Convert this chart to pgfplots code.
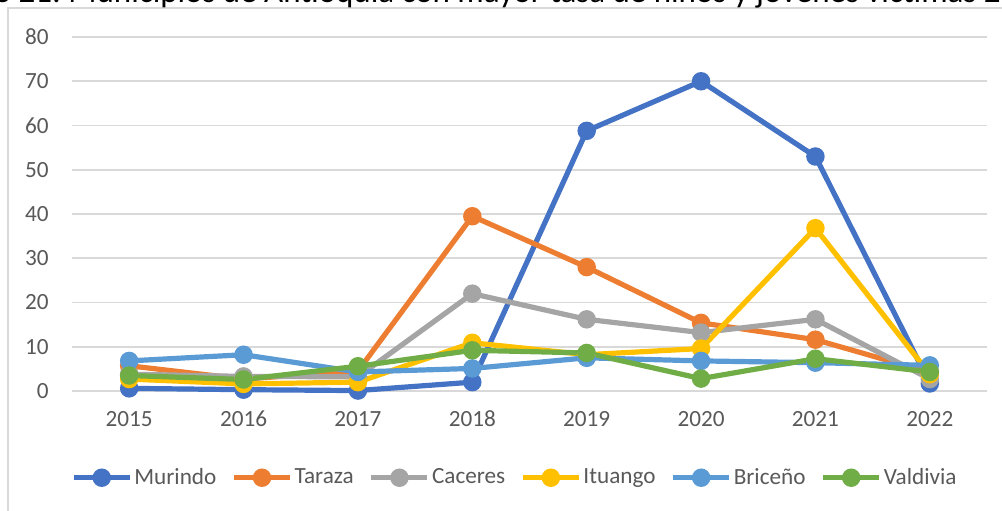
\documentclass[border=0pt]{standalone}
\usepackage{pgfplots}
\pgfplotsset{compat=1.18}
\usepackage{fontspec}
\setmainfont{Carlito}
\definecolor{cMur}{HTML}{4472C4}
\definecolor{cTar}{HTML}{ED7D31}
\definecolor{cCac}{HTML}{A5A5A5}
\definecolor{cItu}{HTML}{FFC000}
\definecolor{cBri}{HTML}{5B9BD5}
\definecolor{cVal}{HTML}{70AD47}
\definecolor{cGrid}{HTML}{D9D9D9}
\definecolor{cTxt}{HTML}{595959}
\begin{document}
\begin{tikzpicture}
% chart frame
\draw[cGrid, line width=0.6pt] (4pt,-20pt) -- (4pt,251pt) -- (530pt,251pt);
% title (partly cut off at top)
\node[anchor=base west, inner sep=0pt, font=\fontsize{16.5}{18}\selectfont, text=black] at (34pt,253.6pt)
  {\llap{Gráfico 21:\ }Municipios de Antioquia con mayor tasa de niños y jóvenes víctimas 2015-2022};
\begin{axis}[
  at={(36pt,59.5pt)}, anchor=south west,
  scale only axis, width=457.5pt, height=177pt,
  xmin=-0.5, xmax=7.5, ymin=0, ymax=80,
  xtick={0,...,7},
  xticklabels={2015,2016,2017,2018,2019,2020,2021,2022},
  ytick={0,10,...,80},
  axis line style={draw=none},
  major tick length=0pt,
  ymajorgrids, grid style={cGrid, line width=0.8pt},
  /pgf/number format/assume math mode=true,
  tick label style={font=\fontsize{11.6}{13}\selectfont, text=cTxt},
  xticklabel style={anchor=base, yshift=-17.8pt, inner sep=0pt},
  yticklabel style={anchor=east, xshift=-11.5pt, inner sep=0pt},
  clip=false,
  every axis plot/.append style={line width=2.6pt, mark=*, mark size=3.3pt, mark options={solid}},
  legend columns=6,
  legend style={draw=none, fill=none, at={(0.484,-0.245)}, anchor=center,
    font=\fontsize{11.6}{13}\selectfont, text=cTxt,
    /tikz/every even column/.append style={column sep=6.5pt},
    nodes={inner sep=1.0pt}},
  legend cell align=left,
  legend image code/.code={\draw[#1, mark repeat=2, mark phase=2] plot coordinates {(0pt,0pt) (14pt,0pt) (28pt,0pt)};},
]
\addplot[color=cMur] coordinates {(0,0.6) (1,0.3) (2,0.1) (3,2.0) (4,58.8) (5,70.0) (6,53.0) (7,1.7)};
\addlegendentry{Murindo}
\addplot[color=cTar] coordinates {(0,5.7) (1,2.7) (2,4.5) (3,39.5) (4,28.0) (5,15.4) (6,11.6) (7,4.2)};
\addlegendentry{Taraza}
\addplot[color=cCac] coordinates {(0,3.8) (1,3.3) (2,3.2) (3,22.0) (4,16.2) (5,13.2) (6,16.2) (7,2.7)};
\addlegendentry{Caceres}
\addplot[color=cItu] coordinates {(0,2.7) (1,1.6) (2,2.0) (3,10.9) (4,8.2) (5,9.6) (6,36.8) (7,3.8)};
\addlegendentry{Ituango}
\addplot[color=cBri] coordinates {(0,6.8) (1,8.2) (2,4.3) (3,5.1) (4,7.5) (5,6.8) (6,6.4) (7,5.8)};
\addlegendentry{Briceño}
\addplot[color=cVal] coordinates {(0,3.5) (1,2.6) (2,5.6) (3,9.2) (4,8.6) (5,2.8) (6,7.3) (7,4.3)};
\addlegendentry{Valdivia}
\end{axis}
\pgfresetboundingbox
\path[use as bounding box] (0,0) rectangle (501pt,255pt);
\end{tikzpicture}
\end{document}
